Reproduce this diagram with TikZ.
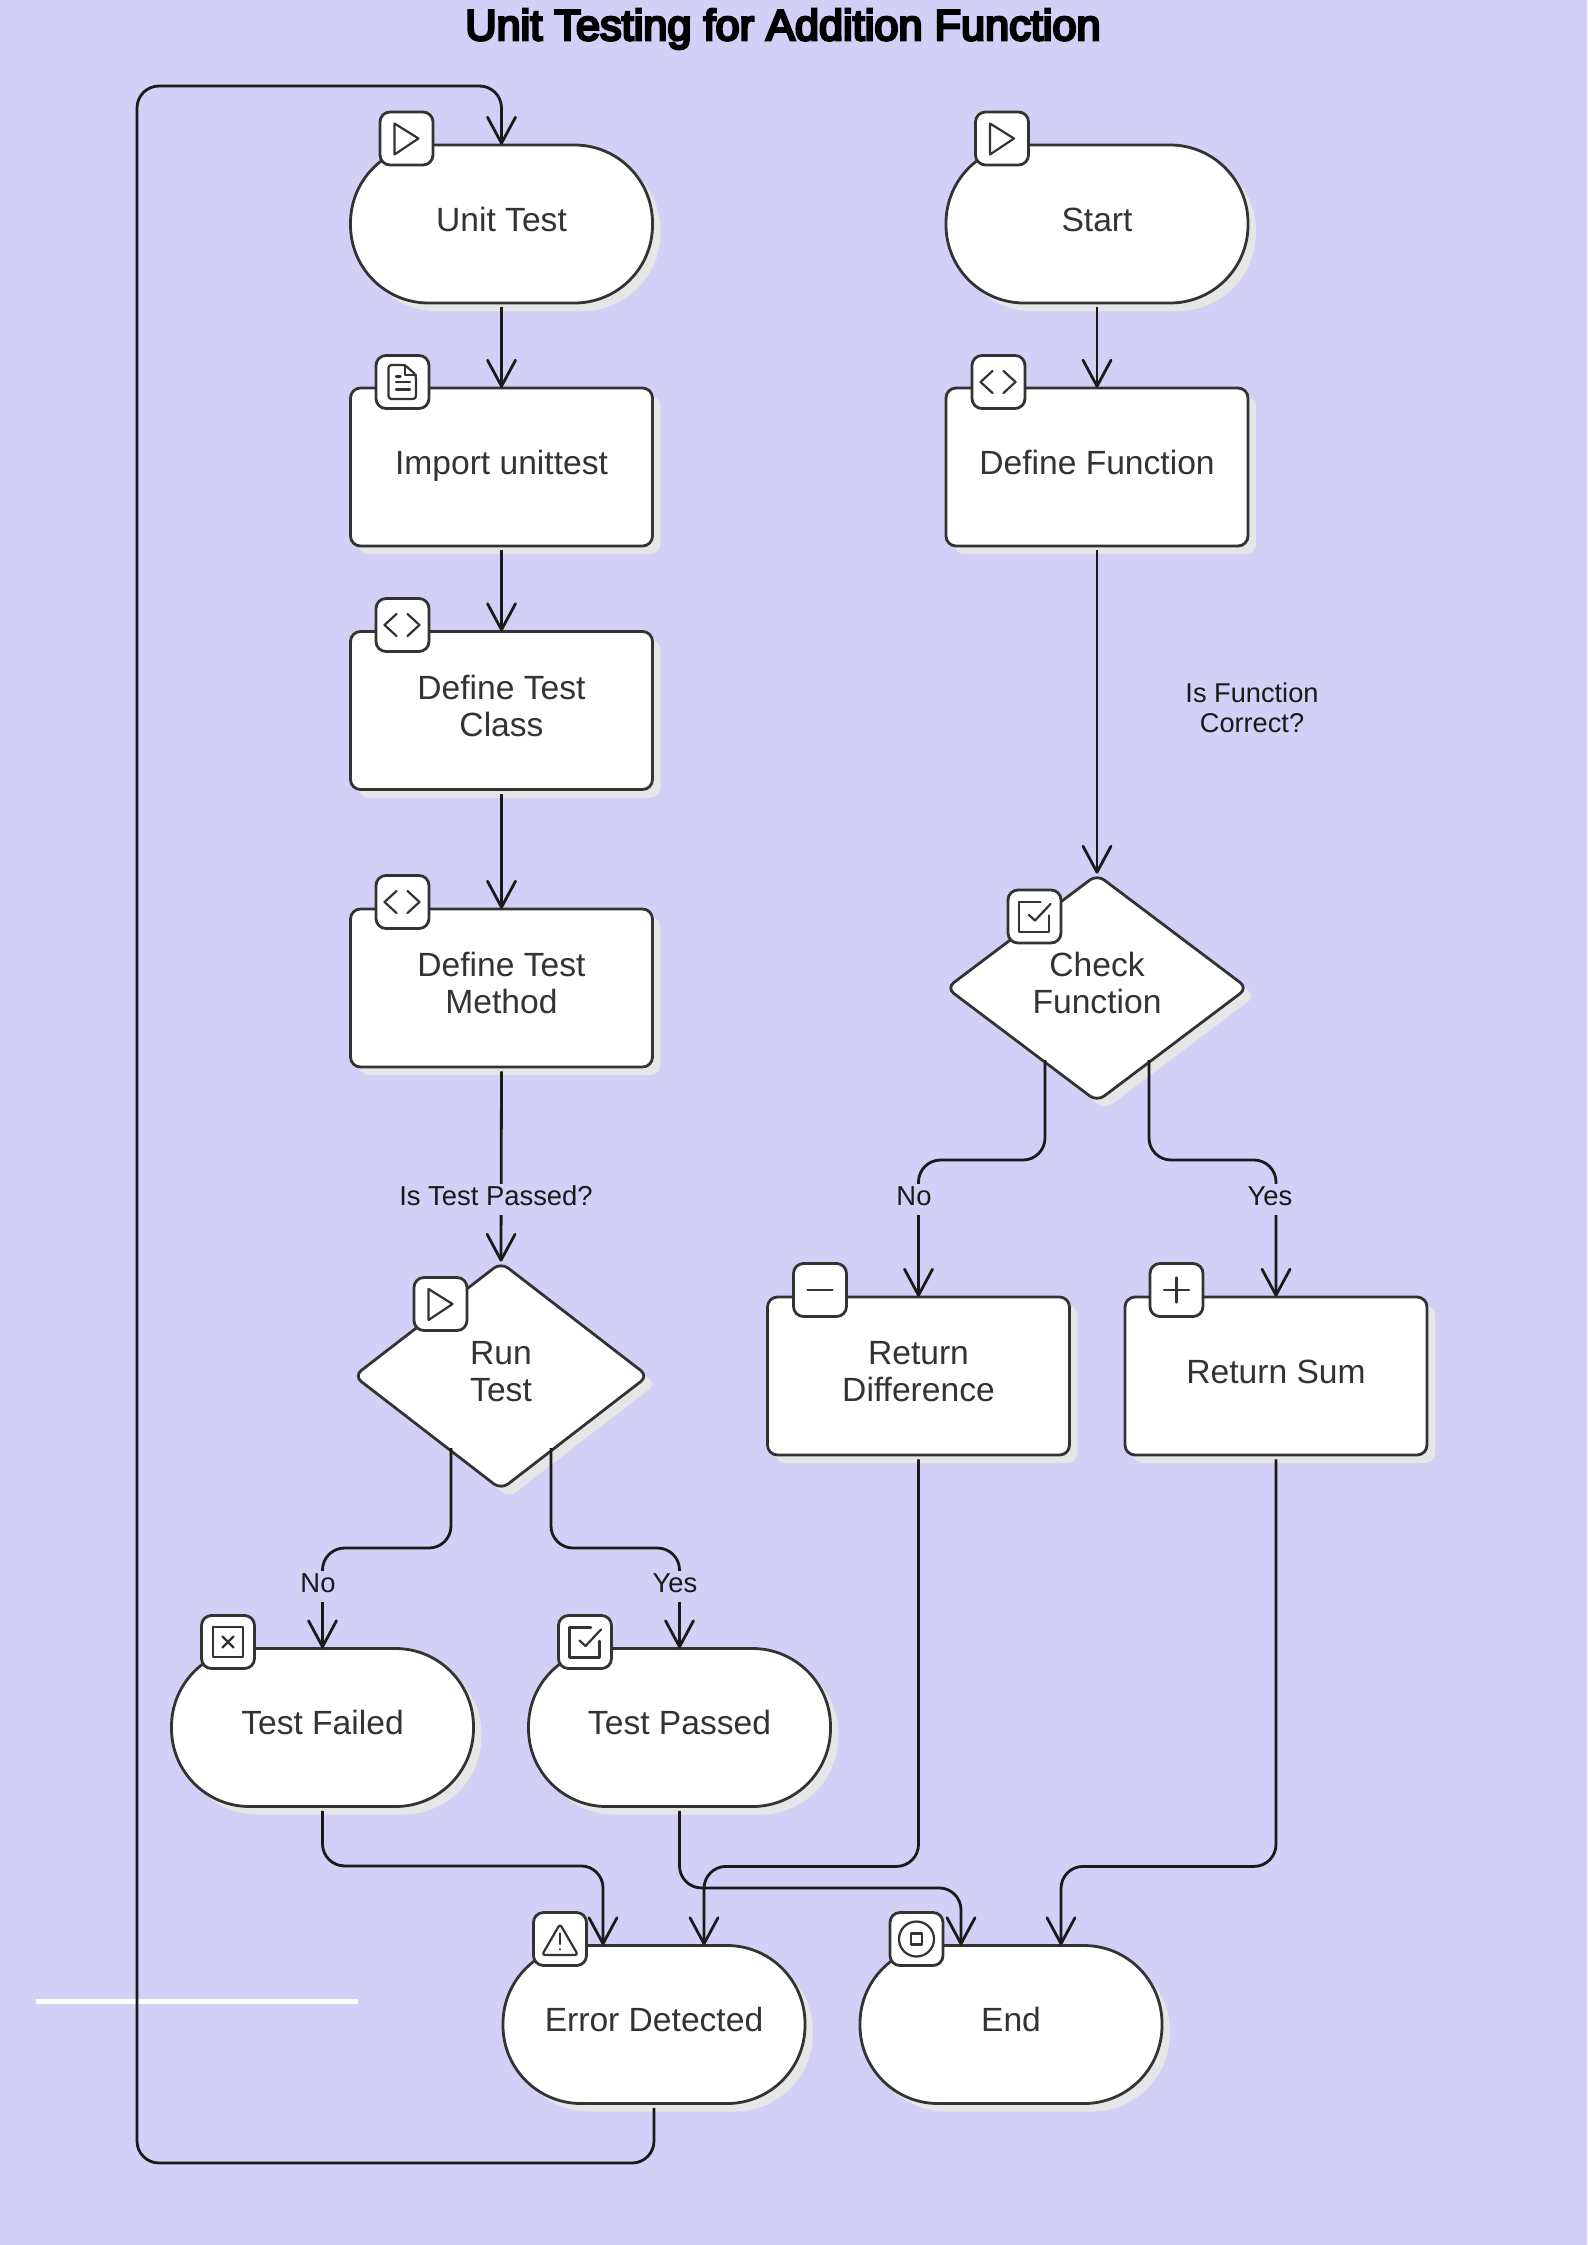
\documentclass[tikz,border=0pt]{standalone}
\usepackage{fontspec}
\setmainfont{Liberation Sans}
\newfontfamily\titlefont[FakeBold=6]{Liberation Sans}
\usetikzlibrary{arrows.meta,calc,shapes.geometric,shadows}
\definecolor{bgc}{HTML}{D2D0F6}
\definecolor{shadowc}{HTML}{E6E6E6}
\definecolor{inkc}{HTML}{333333}
\definecolor{linec}{HTML}{1A1A1A}
\newcommand{\stk}[1]{\begin{tabular}{@{}c@{}}#1\end{tabular}}
\tikzset{
  x=1pt,y=-1pt,
  shapebase/.style={draw=inkc,line width=2.8pt,fill=white,text=inkc,inner sep=0pt,
    font=\fontsize{33.6}{37}\selectfont,
    drop shadow={shadow xshift=8pt,shadow yshift=-8pt,opacity=1,fill=shadowc}},
  pill/.style={shapebase,rectangle,minimum width=302pt,minimum height=158pt,rounded corners=78pt},
  procbox/.style={shapebase,rectangle,minimum width=302pt,minimum height=158pt,rounded corners=10pt},
  decision/.style={shapebase,diamond,aspect=1.3,rounded corners=9pt},
  conn/.style={draw=linec,line width=2.8pt,rounded corners=22pt,shorten <=3pt,shorten >=-1pt,
    -{Straight Barb[length=26pt,width=28pt,round]}},
  edgelabel/.style={fill=bgc,text=black!90,inner sep=0pt,inner xsep=2pt,
    font=\fontsize{27.4}{31}\selectfont},
  iconbox/.style={draw=inkc,line width=2.8pt,fill=white,rectangle,rounded corners=10pt,
    minimum width=53pt,minimum height=53pt,inner sep=0pt},
  glyph/.style={draw=inkc,line width=2.2pt,line join=round,line cap=round},
  iplay/.pic={\draw[glyph] (-12,-15) -- (12,0) -- (-12,16) -- cycle;},
  icode/.pic={\draw[glyph] (-6,-11) -- (-18,0) -- (-6,11) (5,-11) -- (17,0) -- (5,11);},
  idoc/.pic={\draw[glyph,rounded corners=3pt] (2.5,-17) -- (-14,-17) -- (-14,17) -- (13.5,17) -- (13.5,-7) -- cycle;
    \draw[glyph] (2.5,-17) -- (2.5,-7) -- (13.5,-7);
    \draw[glyph] (-6.5,-5.5) -- (-2,-5.5) (-6.5,0) -- (7.5,0) (-6.5,7.5) -- (7.5,7.5);},
  icheck/.pic={\draw[glyph] (6,-14.5) -- (-15.5,-14.5) -- (-15.5,15.5) -- (14.5,15.5) -- (14.5,-1);
    \draw[glyph] (-5.5,-1.5) -- (0.5,4) -- (16,-12.5);},
  ixbox/.pic={\draw[glyph] (-15,-15) rectangle (15,15);
    \draw[glyph] (-5.5,-5.5) -- (5.5,5.5) (-5.5,5.5) -- (5.5,-5.5);},
  iwarn/.pic={\draw[glyph,rounded corners=3pt] (0,-15) -- (18,16) -- (-18,16) -- cycle;
    \draw[glyph] (0,-5.5) -- (0,5) (0,10) -- (0,10.2);},
  istop/.pic={\draw[glyph] (0,0) circle (17.5);
    \draw[glyph] (-5.5,-5.5) rectangle (5.5,5.5);},
  iminus/.pic={\draw[glyph] (-12.5,0) -- (12.5,0);},
  iplus/.pic={\draw[glyph] (-12.5,0) -- (12.5,0) (0,-12.5) -- (0,12.5);},
}
\begin{document}
\begin{tikzpicture}
\fill[bgc] (0,0) rectangle (1587,2245);
\useasboundingbox (0,0) rectangle (1587,2245);

\node[text=black,font=\titlefont\fontsize{43.3}{48}\selectfont] (title) at (783,29) {Unit Testing for Addition Function};

\fill[white] (36,1999) rectangle (358,2003.7);

% flow nodes
\node[pill] (ut) at (501.5,224) {\stk{Unit Test}};
\node[procbox] (imp) at (501.5,467) {\stk{Import unittest}};
\node[procbox] (dtc) at (501.5,710.5) {\stk{Define Test\\Class}};
\node[procbox] (dtm) at (501.5,988) {\stk{Define Test\\Method}};
\node[decision,minimum width=295pt,minimum height=228pt] (rt) at (501,1376) {\stk{Run\\Test}};
\node[pill] (tf) at (322.5,1727.5) {\stk{Test Failed}};
\node[pill] (tp) at (679.5,1727.5) {\stk{Test Passed}};
\node[pill] (ed) at (654,2024.5) {\stk{Error Detected}};
\node[pill] (en) at (1011,2024.5) {\stk{End}};
\node[pill] (st) at (1097,224) {\stk{Start}};
\node[procbox] (df) at (1097,467) {\stk{Define Function}};
\node[decision,minimum width=302pt,minimum height=228pt] (cf) at (1097,988) {\stk{Check\\Function}};
\node[procbox] (rd) at (918.5,1376) {\stk{Return\\Difference}};
\node[procbox] (rs) at (1276,1376) {\stk{Return Sum}};

% attachment points of the connectors
\coordinate (cfL) at ($(cf.center)+(-52,72)$);
\coordinate (cfR) at ($(cf.center)+(52,72)$);
\coordinate (rtL) at ($(rt.center)+(-50,72)$);
\coordinate (rtR) at ($(rt.center)+(50,72)$);
\coordinate (edA) at ($(ed.north)+(-51,0)$);
\coordinate (edB) at ($(ed.north)+(50,0)$);
\coordinate (enA) at ($(en.north)+(-50,0)$);
\coordinate (enB) at ($(en.north)+(50,0)$);
\coordinate (loopB) at (137,2163);
\coordinate (loopT) at (137,86);

% connectors
\draw[conn] (ut.south) -- (imp.north);
\draw[conn] (imp.south) -- (dtc.north);
\draw[conn] (dtc.south) -- (dtm.north);
\draw[conn] (dtm.south) -- (rt.north);
\draw[conn] (st.south) -- (df.north);
\draw[conn] (df.south) -- (cf.north);
\draw[conn,shorten <=0pt] (rtL) -- ++(0,100) -| (tf.north);
\draw[conn,shorten <=0pt] (rtR) -- ++(0,100) -| (tp.north);
\draw[conn,shorten <=0pt] (cfL) -- ++(0,100) -| (rd.north);
\draw[conn,shorten <=0pt] (cfR) -- ++(0,100) -| (rs.north);
\draw[conn] (tf.south) -- ++(0,58) -| (edA);
\draw[conn] (tp.south) -- ++(0,80) -| (enA);
\draw[conn] (rd.south) -- ++(0,410) -| (edB);
\draw[conn] (rs.south) -- ++(0,410) -| (enB);
\draw[conn] (ed.south) |- (loopB) -- (loopT) -| (ut.north);

% connector labels
\node[edgelabel] (lbl1) at (496,1199) {\stk{Is Test Passed?}};
\node[edgelabel] (lbl2) at (318,1586) {\stk{No}};
\node[edgelabel] (lbl3) at (675,1586) {\stk{Yes}};
\node[edgelabel] (lbl4) at (914,1199) {\stk{No}};
\node[edgelabel] (lbl5) at (1270,1199) {\stk{Yes}};
\node[edgelabel,font=\fontsize{27.2}{30}\selectfont] (lbl6) at (1252,711) {\stk{Is Function\\Correct?}};

% icons
\node[iconbox] (iut) at (406.5,138.5) {}; \pic at (iut) {iplay};
\node[iconbox] (iimp) at (402.5,382) {}; \pic at (iimp) {idoc};
\node[iconbox] (idtc) at (402.5,625) {}; \pic at (idtc) {icode};
\node[iconbox] (idtm) at (402.5,902) {}; \pic at (idtm) {icode};
\node[iconbox] (irt) at (440.5,1304) {}; \pic at (irt) {iplay};
\node[iconbox] (itf) at (228,1642) {}; \pic at (itf) {ixbox};
\node[iconbox] (itp) at (585,1642) {}; \pic at (itp) {icheck};
\node[iconbox] (ied) at (560,1939) {}; \pic at (ied) {iwarn};
\node[iconbox] (ien) at (916.5,1939) {}; \pic at (ien) {istop};
\node[iconbox] (ist) at (1002,138.5) {}; \pic at (ist) {iplay};
\node[iconbox] (idf) at (998.5,382) {}; \pic at (idf) {icode};
\node[iconbox] (icf) at (1034.5,916.5) {}; \pic at (icf) {icheck};
\node[iconbox] (ird) at (820,1290) {}; \pic at (ird) {iminus};
\node[iconbox] (irs) at (1176.5,1290) {}; \pic at (irs) {iplus};
\end{tikzpicture}
\end{document}
